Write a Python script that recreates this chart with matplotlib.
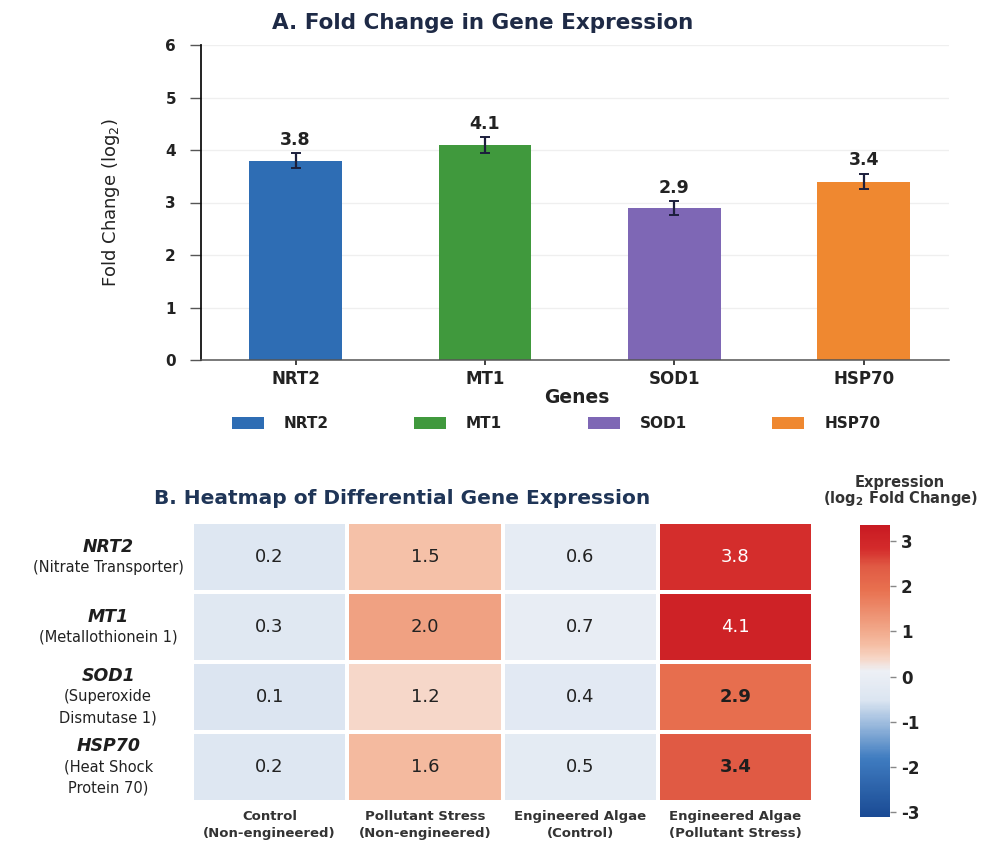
import numpy as np
import matplotlib
matplotlib.use("Agg")
import matplotlib.pyplot as plt
from matplotlib.patches import Patch
from matplotlib.colors import LinearSegmentedColormap, TwoSlopeNorm, Normalize
from matplotlib.cm import ScalarMappable
from matplotlib.transforms import blended_transform_factory

plt.rcParams["axes.unicode_minus"] = False

# ---- panel A data ----
genes = ["NRT2", "MT1", "SOD1", "HSP70"]
fold_change = [3.8, 4.1, 2.9, 3.4]
fold_err = [0.14, 0.15, 0.13, 0.15]
bar_colors = ["#2e6db4", "#40993d", "#7e67b5", "#ef8830"]

# ---- panel B data ----
gene_desc = ["(Nitrate Transporter)", "(Metallothionein 1)",
             "(Superoxide\nDismutase 1)", "(Heat Shock\nProtein 70)"]
conditions = ["Control\n(Non-engineered)", "Pollutant Stress\n(Non-engineered)",
              "Engineered Algae\n(Control)", "Engineered Algae\n(Pollutant Stress)"]
expr_nrt2 = [0.2, 1.5, 0.6, 3.8]
expr_mt1 = [0.3, 2.0, 0.7, 4.1]
expr_sod1 = [0.1, 1.2, 0.4, 2.9]
expr_hsp70 = [0.2, 1.6, 0.5, 3.4]
cbar_ticks = [-3, -2, -1, 0, 1, 2, 3]

W, H = 989, 842


def fx(px):
    return px / W


def fy(py):
    return 1 - py / H


fig = plt.figure(figsize=(W / 100, H / 100), dpi=100)
fig.patch.set_facecolor("white")

#################
# A: bar chart  #
#################
ax1 = fig.add_axes([fx(201), fy(360), (949 - 201) / W, (360 - 45) / H])
x = np.arange(len(genes))
ax1.bar(x, fold_change, width=0.49, color=bar_colors, zorder=2)
ax1.errorbar(x, fold_change, yerr=fold_err, fmt="none", ecolor="#1c1f3c",
             elinewidth=1.6, capsize=3.5, capthick=1.4, zorder=3)
for xi, v, e in zip(x, fold_change, fold_err):
    ax1.text(xi, v + e + 0.08, f"{v:.1f}", ha="center", va="bottom",
             fontsize=12.5, fontweight="bold", color="#222222")

ax1.set_xlim(-0.5, 3.45)
ax1.set_ylim(0, 6)
ax1.set_yticks(range(0, 7))
ax1.set_xticks(x)
ax1.set_xticklabels(genes, fontsize=12, fontweight="bold", color="#222222")
ax1.tick_params(axis="y", length=8, width=1, pad=10, labelsize=11, color="#555555")
for lab in ax1.get_yticklabels():
    lab.set_fontweight("bold")
    lab.set_color("#222222")
ax1.tick_params(axis="x", direction="inout", length=7, width=1.2, pad=4, color="#222222")
ax1.yaxis.grid(True, color="#efefef", linewidth=0.9)
ax1.set_axisbelow(True)
for s in ["top", "right"]:
    ax1.spines[s].set_visible(False)
ax1.spines["left"].set_linewidth(1.3)
ax1.spines["left"].set_color("#111111")
ax1.spines["bottom"].set_linewidth(1.1)
ax1.spines["bottom"].set_color("#555555")

ax1.set_ylabel(r"Fold Change (log$_2$)", fontsize=13, color="#222222")
ax1.yaxis.set_label_coords(-0.105, 0.5)
ax1.set_xlabel("Genes", fontsize=13.5, fontweight="bold", color="#222222")
ax1.xaxis.set_label_coords(0.503, -0.09)

fig.text(fx(483), fy(23), "A. Fold Change in Gene Expression", ha="center", va="center",
         fontsize=15.5, fontweight="bold", color="#1e2a46")

handles = [Patch(facecolor=c, edgecolor="none") for c in bar_colors]
fig.legend(handles, genes, loc="center", bbox_to_anchor=(fx(556), fy(424)), ncol=4,
           frameon=False, prop={"size": 11, "weight": "bold"}, handlelength=2.1,
           handleheight=0.85, handletextpad=1.3, columnspacing=5.6, labelcolor="#222222")

#################
# B: heatmap    #
#################
expr = np.array([expr_nrt2, expr_mt1, expr_sod1, expr_hsp70])

cmap = LinearSegmentedColormap.from_list("expr", [
    (0.0, "#1a4a94"), (0.2, "#3f7cc0"), (0.4, "#dbe5f1"), (0.5, "#edf0f5"),
    (0.545, "#f7d5c5"), (0.59, "#f5bea4"), (0.66, "#f0a081"), (0.78, "#e8704f"),
    (0.86, "#e05a44"), (0.92, "#d42b2b"), (1.0, "#c81a22")])
cell_norm = TwoSlopeNorm(vmin=-3.2, vcenter=0.9, vmax=4.4)

ax2 = fig.add_axes([fx(192), fy(802), (813 - 192) / W, (802 - 522) / H])
ax2.pcolormesh(np.arange(5), np.arange(5), expr, cmap=cmap, norm=cell_norm,
               edgecolors="white", linewidth=1.5)
ax2.set_xlim(0, 4)
ax2.set_ylim(4, 0)
for s in ax2.spines.values():
    s.set_visible(False)
ax2.set_yticks([])
ax2.set_xticks(np.arange(4) + 0.5)
ax2.set_xticklabels(conditions, fontsize=9.5, fontweight="bold", color="#333333",
                    linespacing=1.35)
ax2.tick_params(axis="x", length=0, pad=6)

for i in range(expr.shape[0]):
    for j in range(expr.shape[1]):
        v = expr[i, j]
        if v >= 3.5:
            col, wt = "white", "normal"
        elif v >= 2.5:
            col, wt = "#1e1e1e", "bold"
        else:
            col, wt = "#222222", "normal"
        ax2.text(j + 0.5, i + 0.5, f"{v:.1f}", ha="center", va="center",
                 fontsize=13, color=col, fontweight=wt)

# row labels: gene name + description, centered on each row
trans = blended_transform_factory(ax2.transAxes, ax2.transData)
line_h = 0.3
for i, (g, d) in enumerate(zip(genes, gene_desc)):
    lines = [g] + d.split("\n")
    n = len(lines)
    for k, line in enumerate(lines):
        yy = i + 0.5 + (k - (n - 1) / 2) * line_h
        if k == 0:
            ax2.text(-0.135, yy, line, transform=trans, ha="center", va="center",
                     fontsize=12.5, fontweight="bold", fontstyle="italic", color="#1e1e1e")
        else:
            ax2.text(-0.135, yy, line, transform=trans, ha="center", va="center",
                     fontsize=10.5, color="#222222")

fig.text(fx(402), fy(499), "B. Heatmap of Differential Gene Expression", ha="center",
         va="center", fontsize=14.5, fontweight="bold", color="#1f3557")

# colorbar
cax = fig.add_axes([fx(860), fy(817), 30 / W, (817 - 525) / H])
sm = ScalarMappable(norm=Normalize(-3.1, 3.35), cmap=cmap)
cb = fig.colorbar(sm, cax=cax)
cb.outline.set_visible(False)
cb.set_ticks(cbar_ticks)
cb.ax.tick_params(length=4, width=1, color="#888888", pad=4, labelsize=12)
for lab in cb.ax.get_yticklabels():
    lab.set_fontweight("bold")
    lab.set_color("#222222")

fig.text(fx(900), fy(483), "Expression", ha="center", va="center",
         fontsize=10.5, fontweight="bold", color="#333333")
fig.text(fx(900), fy(499), r"(log$_\mathbf{2}$ Fold Change)", ha="center", va="center",
         fontsize=10.5, fontweight="bold", color="#333333")

fig.savefig("out.png", dpi=100, facecolor="white")
